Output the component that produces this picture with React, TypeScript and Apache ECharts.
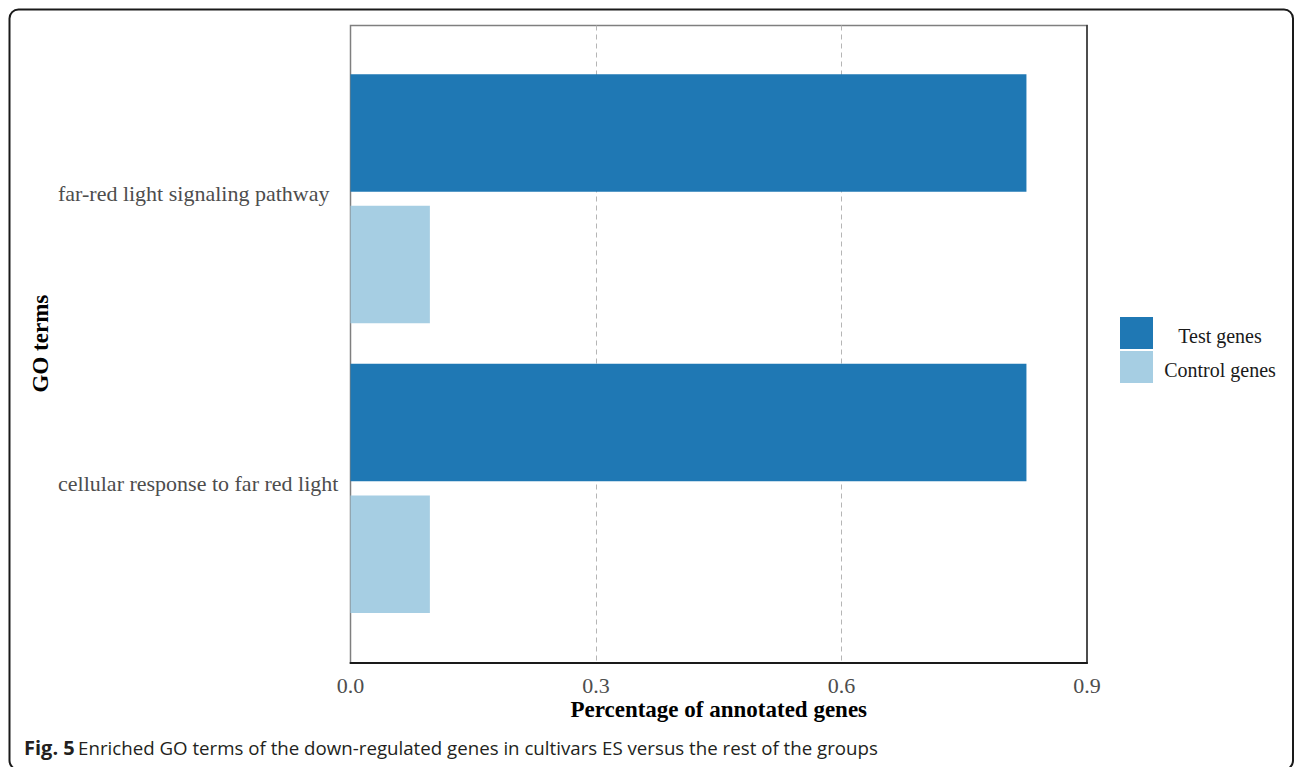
import React, { useEffect, useRef } from "react";
import * as echarts from "echarts";

// GO terms, listed top to bottom
const categories = [
  "far-red light signaling pathway",
  "cellular response to far red light",
];
// Share of annotated genes per term
const testGenes = [0.826, 0.826];
const controlGenes = [0.097, 0.097];
const seriesNames = ["Test genes", "Control genes"];
const xMin = 0;
const xMax = 0.9;
const xStep = 0.3;

const caption =
  "Enriched GO terms of the down-regulated genes in cultivars ES versus the rest of the groups";

const SERIF = "'Liberation Serif', 'Times New Roman', serif";
const SANS = "'Open Sans', 'Noto Sans', sans-serif";

export default function App() {
  const ref = useRef<HTMLDivElement>(null);

  useEffect(() => {
    if (!ref.current) return;
    const chart = echarts.init(ref.current, undefined, { renderer: "svg" });

    // panel frame
    const frame = { left: 350.5, top: 25.5, width: 736.5, height: 637.5 };
    // bar area: centres of the two term groups sit 290px apart
    const band = 289.7;
    const firstCentre = 198.7;

    chart.setOption({
      animation: false,
      backgroundColor: "#ffffff",
      textStyle: { fontFamily: SERIF },
      grid: [
        {
          left: frame.left,
          top: frame.top,
          width: frame.width,
          height: frame.height,
          show: true,
          borderColor: "#7f7f7f",
          borderWidth: 1.5,
          backgroundColor: "transparent",
        },
        {
          left: frame.left,
          top: firstCentre - band / 2,
          width: frame.width,
          height: band * categories.length,
        },
      ],
      xAxis: [
        {
          gridIndex: 0,
          type: "value",
          min: xMin,
          max: xMax,
          interval: xStep,
          axisLine: { show: true, onZero: false, lineStyle: { color: "#1a1a1a", width: 2 } },
          axisTick: { show: false },
          axisLabel: {
            fontFamily: SERIF,
            fontSize: 22,
            color: "#4d4d4d",
            margin: 11,
            formatter: (v: number) => v.toFixed(1),
          },
          splitLine: {
            show: true,
            showMinLine: false,
            showMaxLine: false,
            lineStyle: { type: [5, 4], color: "#b5b5b5", width: 1 },
          },
          name: "Percentage of annotated genes",
          nameLocation: "middle",
          nameGap: 35,
          nameMoveOverlap: false,
          nameTextStyle: {
            fontFamily: SERIF,
            fontSize: 23,
            fontWeight: "bold",
            color: "#000000",
          },
        },
        {
          gridIndex: 1,
          type: "value",
          min: xMin,
          max: xMax,
          show: false,
        },
      ],
      yAxis: [
        {
          gridIndex: 0,
          type: "value",
          position: "right",
          min: 0,
          max: 1,
          axisLine: { show: true, onZero: false, lineStyle: { color: "#333333", width: 1.5 } },
          axisTick: { show: false },
          axisLabel: { show: false },
          splitLine: { show: false },
        },
        {
          gridIndex: 1,
          type: "category",
          data: categories,
          inverse: true,
          axisLine: { show: false },
          axisTick: { show: false },
          axisLabel: {
            align: "left",
            margin: 292.5,
            formatter: (name: string) => `{c|${name}}`,
            rich: {
              c: {
                fontFamily: SERIF,
                fontSize: 22,
                color: "#4d4d4d",
                padding: [0, 0, 10, 0],
              },
            },
          },
          name: "GO terms",
          nameLocation: "middle",
          nameGap: 299,
          nameMoveOverlap: false,
          nameRotate: 90,
          nameTextStyle: {
            fontFamily: SERIF,
            fontSize: 23,
            fontWeight: "bold",
            color: "#000000",
          },
        },
      ],
      legend: {
        orient: "vertical",
        left: 1120,
        top: 317,
        padding: 0,
        itemWidth: 33,
        itemHeight: 32,
        itemGap: 2,
        icon: "rect",
        data: seriesNames,
        formatter: (name: string) => `{t|${name}}`,
        textStyle: {
          rich: {
            t: {
              width: 124,
              align: "center",
              fontFamily: SERIF,
              fontSize: 20,
              color: "#1a1a1a",
              padding: [6, 0, 0, 0],
            },
          },
        },
      },
      series: [
        {
          name: seriesNames[0],
          type: "bar",
          xAxisIndex: 1,
          yAxisIndex: 1,
          data: testGenes,
          barWidth: 117.5,
          barGap: "12%",
          itemStyle: { color: "#1f78b4" },
        },
        {
          name: seriesNames[1],
          type: "bar",
          xAxisIndex: 1,
          yAxisIndex: 1,
          data: controlGenes,
          barWidth: 117.5,
          barGap: "12%",
          itemStyle: { color: "#a6cee3" },
        },
      ],
      graphic: [
        {
          type: "rect",
          silent: true,
          shape: { x: 9.5, y: 9.5, width: 1283.5, height: 760, r: 9 },
          style: { fill: "none", stroke: "#1a1a1a", lineWidth: 2 },
        },
        {
          type: "text",
          silent: true,
          x: 24,
          y: 747,
          style: {
            text: `{b|Fig. 5} {n|${caption}}`,
            verticalAlign: "middle",
            rich: {
              b: {
                fontFamily: SANS,
                fontWeight: "bold",
                fontSize: 20,
                fill: "#231f20",
              },
              n: {
                fontFamily: SANS,
                fontSize: 18.7,
                fill: "#231f20",
              },
            },
          },
        },
      ],
    });

    return () => chart.dispose();
  }, []);

  return (
    <div
      ref={ref}
      style={{ position: "fixed", left: 0, top: 0, width: 1295, height: 767 }}
    />
  );
}
